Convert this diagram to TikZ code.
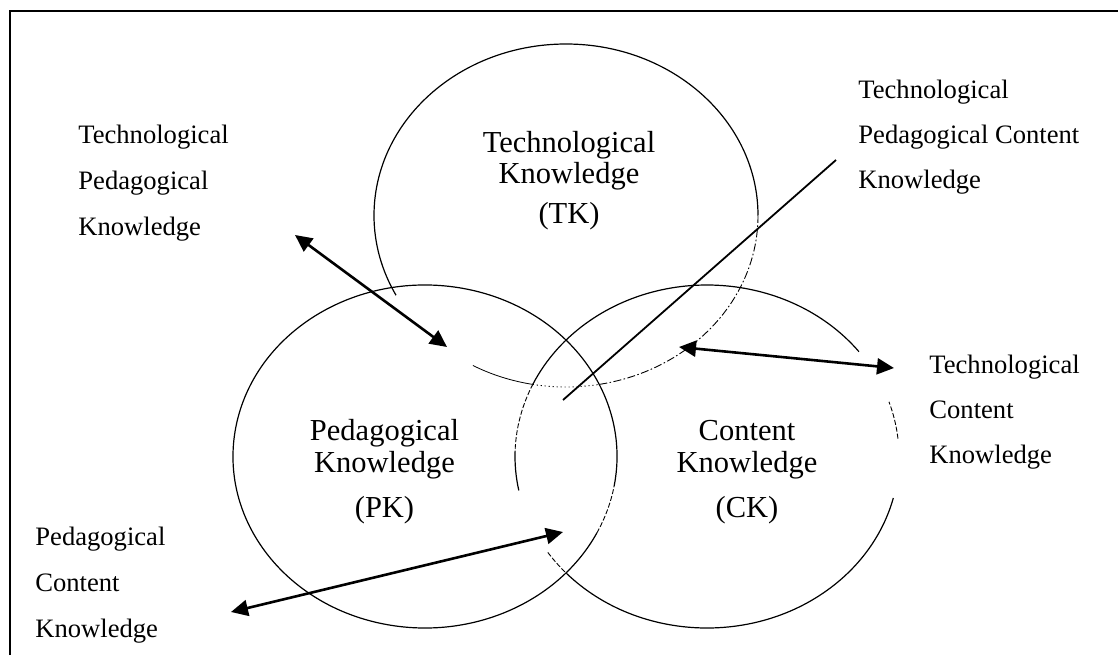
\documentclass[tikz,border=0pt]{standalone}
\usepackage{fontspec}
\setmainfont{Liberation Serif}
\usetikzlibrary{arrows.meta}
\newcommand{\cstack}[5]{\vtop{\baselineskip=#1\lineskiplimit=-100pt\lineskip=0pt\halign{\hfil##\hfil\cr #3\cr #4\cr\noalign{\vskip #2}#5\cr}}}
\newcommand{\lstack}[4]{\vtop{\baselineskip=#1\lineskiplimit=-100pt\lineskip=0pt\hbox{#2}\hbox{#3}\hbox{#4}}}
\tikzset{
  circ/.style={line width=0.6pt},
  circthin/.style={line width=0.4pt},
  circdash/.style={line width=0.45pt, dash pattern=on 2.5pt off 1pt},
  circdot/.style={line width=0.45pt, dash pattern=on 0.6pt off 1.4pt},
  circdashdot/.style={line width=0.45pt, dash pattern=on 4pt off 1.2pt on 0.8pt off 1.2pt},
  dbl/.style={line width=1.3pt, {Triangle[length=8.5pt,width=8pt]}-{Triangle[length=8.5pt,width=8pt]}},
  plainline/.style={line width=0.9pt},
  sidelab/.style={inner sep=0pt, anchor=base west, font=\fontsize{13.3}{16}\selectfont},
  circlab/.style={inner sep=0pt, anchor=base, font=\fontsize{15.25}{16}\selectfont},
  frame/.style={line width=1pt}
}
\begin{document}
\begin{tikzpicture}[x=0.5pt,y=0.5pt]
\useasboundingbox (0,0) rectangle (1118,655);
% frame (top and left edges)
\coordinate (fb) at (10,0);
\coordinate (fc) at (10,643.5);
\coordinate (fr) at (1118,643.5);
\draw[frame] (fb) -- (fc) -- (fr);

% circle centres
\coordinate (cTK) at (566,439.5);
\coordinate (cPK) at (425,198.5);
\coordinate (cCK) at (707,198.5);

% TK ellipse
\draw[circ] (cTK) ++(0:192 and 171.5) arc[start angle=0, end angle=207.7, x radius=192, y radius=171.5];
\draw[circthin] (cTK) ++(241:192 and 171.5) arc[start angle=241, end angle=260, x radius=192, y radius=171.5];
\draw[circdot] (cTK) ++(260:192 and 171.5) arc[start angle=260, end angle=280, x radius=192, y radius=171.5];
\draw[circdashdot] (cTK) ++(280:192 and 171.5) arc[start angle=280, end angle=360, x radius=192, y radius=171.5];

% PK ellipse
\draw[circ] (cPK) ++(-10:192 and 171.5) arc[start angle=-10, end angle=333.5, x radius=192, y radius=171.5];
\draw[circdash] (cPK) ++(333.5:192 and 171.5) arc[start angle=333.5, end angle=350, x radius=192, y radius=171.5];

% CK ellipse
\draw[circ] (cCK) ++(37.7:192 and 171.5) arc[start angle=37.7, end angle=155, x radius=192, y radius=171.5];
\draw[circdash] (cCK) ++(155:192 and 171.5) arc[start angle=155, end angle=178, x radius=192, y radius=171.5];
\draw[circ] (cCK) ++(178:192 and 171.5) arc[start angle=178, end angle=191.4, x radius=192, y radius=171.5];
\draw[circdash] (cCK) ++(214:192 and 171.5) arc[start angle=214, end angle=223, x radius=192, y radius=171.5];
\draw[circ] (cCK) ++(223:192 and 171.5) arc[start angle=223, end angle=346, x radius=192, y radius=171.5];
\draw[circdash] (cCK) ++(6:192 and 171.5) arc[start angle=6, end angle=18.6, x radius=192, y radius=171.5];

% circle labels
\node[circlab] (tk) at (569,503) {\cstack{15.5pt}{4.5pt}{Technological}{Knowledge}{(TK)}};
\node[circlab] (pk) at (384.5,215) {\cstack{16pt}{6.5pt}{Pedagogical}{Knowledge}{(PK)}};
\node[circlab] (ck) at (747,215) {\cstack{16pt}{6.5pt}{Content}{Knowledge}{(CK)}};

% side labels
\node[sidelab] (tpk) at (78,511.7) {\lstack{23pt}{Technological}{Pedagogical}{Knowledge}};
\node[sidelab] (tpck) at (858,557) {\lstack{22.5pt}{Technological}{Pedagogical Content}{Knowledge}};
\node[sidelab] (tck) at (929,282) {\lstack{22.5pt}{Technological}{Content}{Knowledge}};
\node[sidelab] (pck) at (35,110) {\lstack{23pt}{Pedagogical}{Content}{Knowledge}};

% connector end points
\coordinate (tpkA) at (295,420);
\coordinate (tpkB) at (447,308);
\coordinate (tpckA) at (836,495);
\coordinate (tpckB) at (563,255);
\coordinate (tckA) at (679,308);
\coordinate (tckB) at (894,287);
\coordinate (pckA) at (231,43);
\coordinate (pckB) at (563,123);

\draw[dbl] (tpkA) -- (tpkB);
\draw[plainline] (tpckA) -- (tpckB);
\draw[dbl] (tckA) -- (tckB);
\draw[dbl] (pckA) -- (pckB);
\end{tikzpicture}
\end{document}
